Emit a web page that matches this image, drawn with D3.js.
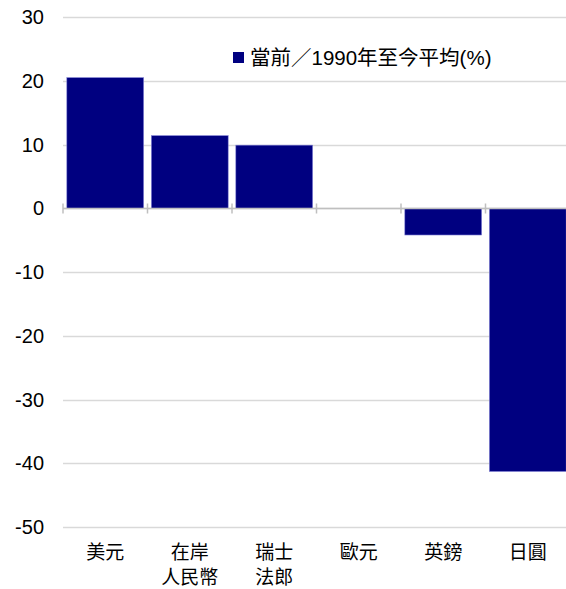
<!DOCTYPE html>
<html><head><meta charset="utf-8">
<script src="https://cdn.jsdelivr.net/npm/d3@7"></script>
<style>body{margin:0;background:#fff}text{font-family:"Liberation Sans","Noto Sans CJK TC",Arial,sans-serif}</style>
</head><body><svg id="c" width="566" height="589"></svg>
<script>
const categories = [["美元"],["在岸","人民幣"],["瑞士","法郎"],["歐元"],["英鎊"],["日圓"]];
const values = [20.5, 11.4, 9.9, 0, -4.2, -41.3];
const yTicks = [30,20,10,0,-10,-20,-30,-40,-50];
const legendLabel = "當前／1990年至今平均(%)";

const svg = d3.select("#c");
const x = d3.scaleBand().domain(d3.range(categories.length)).range([63,570]).paddingInner(0.09).paddingOuter(0.045);
const y = d3.scaleLinear().domain([-50,30]).range([527,17]);

// gridlines
svg.append("g").selectAll("line").data(yTicks).join("line")
  .attr("x1",63).attr("x2",566).attr("y1",d=>Math.round(y(d))+0.5).attr("y2",d=>Math.round(y(d))+0.5)
  .attr("stroke","#d9d9d9").attr("stroke-width",1.5);

// y labels
svg.append("g").selectAll("text").data(yTicks).join("text")
  .attr("x",44).attr("y",d=>y(d)).attr("dy","0.36em").attr("text-anchor","end")
  .attr("font-size",20).attr("fill","#000").text(d=>d);

// bars
svg.append("g").selectAll("rect").data(values).join("rect")
  .attr("x",(d,i)=>x(i)).attr("width",x.bandwidth())
  .attr("y",d=>y(Math.max(0,d))).attr("height",d=>Math.abs(y(d)-y(0)))
  .attr("fill","#000080").attr("stroke","#8c8cd9").attr("stroke-width",0.6);

// zero axis
const x0 = Math.round(y(0))+0.5;
svg.append("line").attr("x1",63).attr("x2",566).attr("y1",x0).attr("y2",x0).attr("stroke","#bfbfbf").attr("stroke-width",1.5);
const step = x.step();
svg.append("g").selectAll("line").data(d3.range(categories.length)).join("line")
  .attr("x1",i=>63+i*step).attr("x2",i=>63+i*step).attr("y1",x0-5).attr("y2",x0+5)
  .attr("stroke","#bfbfbf").attr("stroke-width",1.5);

// category labels
const cl = svg.append("g").selectAll("text").data(categories).join("text")
  .attr("text-anchor","middle").attr("font-size",19).attr("fill","#000");
cl.each(function(d,i){
  const t = d3.select(this);
  d.forEach((s,j)=>t.append("tspan").attr("x",x(i)+x.bandwidth()/2).attr("y",559+j*25).text(s));
});

// legend
svg.append("rect").attr("x",233).attr("y",52).attr("width",11).attr("height",11).attr("fill","#000080");
svg.append("text").attr("x",250).attr("y",58).attr("dy","0.36em").attr("font-size",20.5).attr("fill","#000").text(legendLabel);
</script></body></html>
